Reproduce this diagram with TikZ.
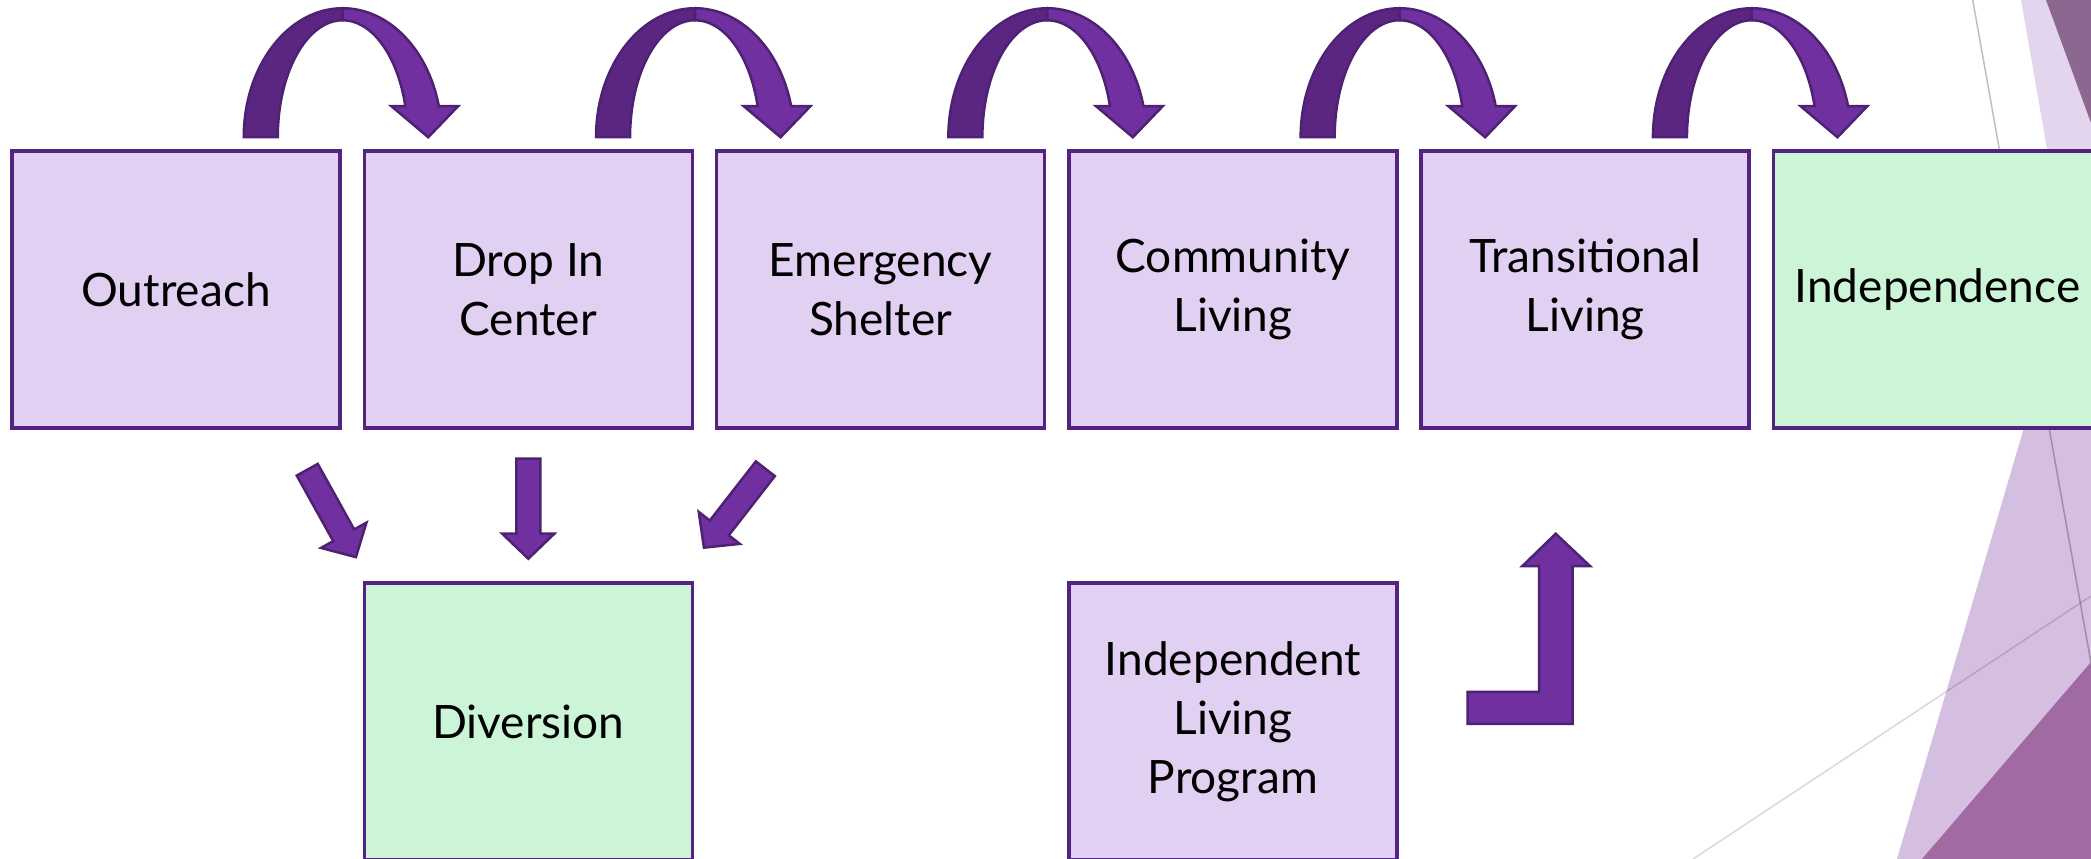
\documentclass[tikz,border=0pt]{standalone}
\usepackage{fontspec}
\setmainfont{Lato}
\usetikzlibrary{positioning,calc}

\definecolor{boxlav}{HTML}{E1D0F1}
\definecolor{boxgreen}{HTML}{CCF5D8}
\definecolor{boxline}{HTML}{53247F}
\definecolor{arrowfront}{HTML}{7030A0}
\definecolor{arrowback}{HTML}{5A2681}
\definecolor{arrowline}{HTML}{4F2173}
\definecolor{facetlight}{HTML}{E3D5EE}
\definecolor{facetmid}{HTML}{D4BFE1}
\definecolor{facetdark}{HTML}{A26AA3}
\definecolor{facettop}{HTML}{8C6891}

\tikzset{
  stagebox/.style={draw=boxline, line width=3.5pt, fill=boxlav,
    minimum width=328pt, minimum height=277pt, inner sep=0pt,
    align=center, font=\fontsize{46}{59}\selectfont},
  goalbox/.style={stagebox, fill=boxgreen},
  arrowfill/.style={fill=arrowfront, draw=arrowline, line width=2.5pt},
  hopback/.style={arrowfill, fill=arrowback},
  hoparrow/.pic={
    \filldraw[hopback] (-98,0) arc[start angle=180, end angle=90, x radius=99, y radius=129]
      -- (1,117) arc[start angle=90, end angle=180, x radius=65, y radius=117] -- cycle;
    \filldraw[arrowfill] (1,129) arc[start angle=90, end angle=14, x radius=99, y radius=129]
      -- (116.5,31.2) -- (86.5,0) -- (49.5,31.2) -- (63.6,31.2)
      arc[start angle=15.47, end angle=90, x radius=65, y radius=117] -- cycle;
  },
  blockarrow/.pic={
    \filldraw[arrowfill] (0,-12) -- (75,-12) -- (75,-26) -- (100,0)
      -- (75,26) -- (75,12) -- (0,12) -- cycle;
  }
}

\begin{document}
\begin{tikzpicture}[x=1pt,y=1pt]
\useasboundingbox (0,0) rectangle (2091,859);

% facets on the right
\fill[facetlight] (2021,859) -- (2091,859) -- (2091,458) -- cycle;
\fill[facettop] (2046,859) -- (2091,859) -- (2091,736) -- cycle;
\fill[facetmid] (1897,0) -- (2091,0) -- (2091,659) -- cycle;
\fill[facetdark] (1922,0) -- (2091,0) -- (2091,197) -- cycle;
\draw[black, opacity=0.25, line width=1.5pt] (1972.7,859) -- (2091,196);
\draw[black, opacity=0.15, line width=1.5pt] (1693,0) -- (2091,263);

% stages
\node[stagebox] (outreach) at (176,569.5) {Outreach};
\node[stagebox, right=20.8pt of outreach] (dropin) {Drop In\\Center};
\node[stagebox, right=20.8pt of dropin] (shelter) {Emergency\\Shelter};
\node[stagebox, right=20.8pt of shelter] (community) {Community\\Living};
\node[stagebox, right=20.8pt of community] (transit) {Transitional\\Living};
\node[goalbox, right=20.8pt of transit] (independence) {Independence};

\node[goalbox, below=151.5pt of dropin] (diversion) {Diversion};
\node[stagebox, below=151.5pt of community] (indliv) {Independent\\Living\\Program};

% hops along the top
\pic at ($(outreach.north east)+(0,12)$) {hoparrow};
\pic at ($(dropin.north east)+(0,12)$) {hoparrow};
\pic at ($(shelter.north east)+(0,12)$) {hoparrow};
\pic at ($(community.north east)+(0,12)$) {hoparrow};
\pic at ($(transit.north east)+(0,12)$) {hoparrow};

% into diversion
\pic[rotate=-60.9] at ($(outreach.south east)+(-34.5,-40)$) {blockarrow};
\pic[rotate=-90] at ($(dropin.south)+(0,-29)$) {blockarrow};
\pic[rotate=-127.9] at ($(shelter.south west)+(50.5,-39)$) {blockarrow};

% independent living up to transitional
\coordinate (ltail) at ($(indliv.east)+(69,13.5)$);
\coordinate (ltip) at ($(transit.south)+(-29.5,-104)$);
\filldraw[arrowfill] ($(ltail)+(0,-16)$) -| ($(ltip)+(17,-32.5)$) -- ++(17.5,0)
  -- (ltip) -- ++(-33.5,-32.5) -- ++(17,0) |- ($(ltail)+(0,16)$) -- cycle;

\end{tikzpicture}
\end{document}
